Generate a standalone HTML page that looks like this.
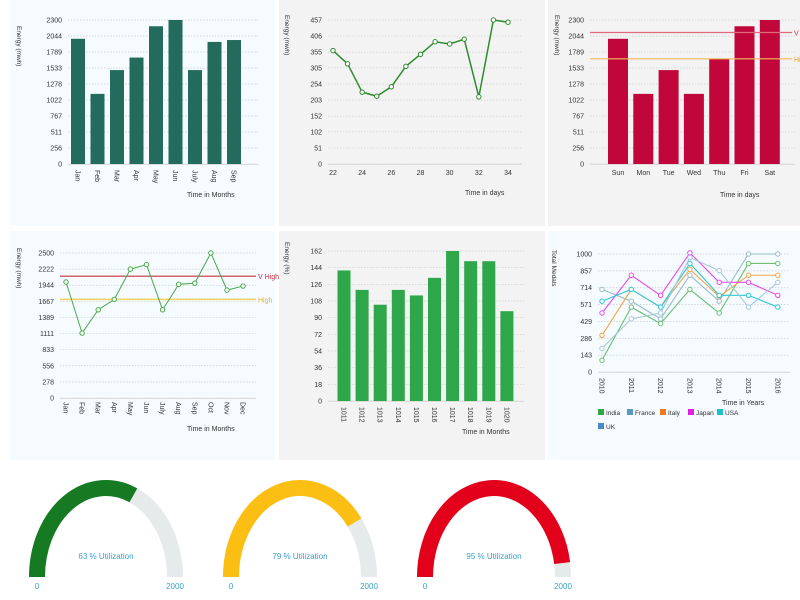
<!DOCTYPE html>
<html><head><meta charset="utf-8"><style>
html,body{margin:0;padding:0;background:#fff;}
svg{display:block;font-family:"Liberation Sans",sans-serif;}
</style></head><body>
<svg id="s" width="800" height="600" viewBox="0 0 800 600" xmlns="http://www.w3.org/2000/svg">
<rect x="10" y="0" width="265" height="226" fill="#f5fbfe"/>
<rect x="279" y="0" width="266" height="226" fill="#f3f3f3"/>
<rect x="548" y="0" width="252" height="226" fill="#f3f3f3"/>
<rect x="10" y="231" width="265" height="229" fill="#f5fbfe"/>
<rect x="279" y="231" width="266" height="229" fill="#f3f3f3"/>
<rect x="548" y="231" width="252" height="229" fill="#f5fbfe"/>
</svg>
<script>
// Chart 1
const c1Cats=["Jan","Feb","Mar","Apr","May","Jun","July","Aug","Sep"];
const c1Vals=[2000,1120,1500,1700,2200,2300,1500,1950,1980];
const c1Ticks=[0,256,511,767,1022,1278,1533,1789,2044,2300];
// Chart 2
const c2Days=[22,23,24,25,26,27,28,29,30,31,32,33,34];
const c2Vals=[360,318,228,215,245,310,348,388,381,396,213,457,450];
const c2Ticks=[0,51,102,152,203,254,305,355,406,457];
const c2XTicks=[22,24,26,28,30,32,34];
// Chart 3
const c3Cats=["Sun","Mon","Tue","Wed","Thu","Fri","Sat"];
const c3Vals=[2000,1120,1500,1120,1680,2200,2300];
const c3Ticks=[0,256,511,767,1022,1278,1533,1789,2044,2300];
const c3Thresholds=[2100,1680];
// Chart 4
const c4Cats=["Jan","Feb","Mar","Apr","May","Jun","July","Aug","Sep","Oct","Nov","Dec"];
const c4Vals=[2000,1120,1520,1700,2222,2300,1520,1960,1980,2500,1860,1930];
const c4Ticks=[0,278,556,833,1111,1389,1667,1944,2222,2500];
const c4Thresholds=[2100,1700];
// Chart 5
const c5Cats=["1011","1012","1013","1014","1015","1016","1017","1018","1019","1020"];
const c5Vals=[141,120,104,120,114,133,162,151,151,97];
const c5Ticks=[0,18,36,54,72,90,108,126,144,162];
// Chart 6
const c6Years=["2010","2011","2012","2013","2014","2015","2016"];
const c6Ticks=[0,143,286,429,571,714,857,1000];
const c6Names=["India","France","Italy","Japan","USA","UK"];
const c6India=[100,550,410,700,500,920,920];
const c6France=[700,600,450,820,600,1000,1000];
const c6Italy=[310,700,550,870,640,820,820];
const c6Japan=[500,820,650,1010,760,760,650];
const c6USA=[600,700,550,920,650,650,550];
const c6UK=[200,450,500,970,860,550,760];
// Gauges
const gVals=[63,79,95];

const svg=document.getElementById('s');
const NS="http://www.w3.org/2000/svg";
function mk(tag,attrs,name,parent){
  const e=document.createElementNS(NS,tag);
  for(const k in attrs)e.setAttribute(k,attrs[k]);
  
  
  (parent||svg).appendChild(e);return e;
}
function txt(x,y,s,attrs,name){const t=mk('text',Object.assign({x:x,y:y,'font-size':7,fill:'#333'},attrs||{}),name);t.textContent=s;return t;}
function lin(y0,y1,v0,v1){return v=>y0+(v-v0)/(v1-v0)*(y1-y0);}

function yAxis(ticks,yS,x0,x1,pre){
  ticks.forEach(t=>{
    mk('line',{x1:x0,x2:x1,y1:yS(t),y2:yS(t),stroke:'#ccc','stroke-width':0.7,'stroke-dasharray':'1.5,1.5'},pre+'-gridline');
    txt(x0-6,yS(t)+2.5,String(t),{'text-anchor':'end'},pre+'-y-tick');
  });
  mk('line',{x1:x0,x2:x1,y1:yS(0)+0.5,y2:yS(0)+0.5,stroke:'#ddd','stroke-width':1},pre+'-x-axis');
}
function yTitle(x,y,s,pre){txt(0,0,s,{transform:`translate(${x},${y}) rotate(90)`,'font-size':6.5},pre+'-y-axis-title');}
function rotLabel(x,y,s,name){txt(0,0,s,{transform:`translate(${x-2.5},${y}) rotate(90)`,'font-size':7},name);}

// Chart 1
{const y=lin(164,20,0,2300);yAxis(c1Ticks,y,68,258,'c1');
 c1Vals.forEach((v,i)=>{const cx=78+i*19.5;
  mk('rect',{x:cx-7,y:y(v),width:14,height:y(0)-y(v),fill:'#226b5d'},'c1-bar-'+c1Cats[i]);
  rotLabel(cx,170,c1Cats[i],'c1-x-tick');});
 yTitle(17,26,'Energy (mwh)','c1');txt(187,197,'Time in Months',{},'c1-x-axis-title');}
// Chart 2
{const y=lin(164,20,0,457),x=lin(333,508,22,34);yAxis(c2Ticks,y,328,522,'c2');
 c2XTicks.forEach(t=>txt(x(t),175,String(t),{'text-anchor':'middle'},'c2-x-tick'));
 mk('polyline',{points:c2Days.map((d,i)=>x(d)+','+y(c2Vals[i])).join(' '),fill:'none',stroke:'#2e8b2e','stroke-width':1.5},'c2-line');
 c2Days.forEach((d,i)=>mk('circle',{cx:x(d),cy:y(c2Vals[i]),r:2.2,fill:'#fff',stroke:'#2e8b2e','stroke-width':1},'c2-point'));
 yTitle(285,15,'Energy (mwh)','c2');txt(465,195,'Time in days',{},'c2-x-axis-title');}
// Chart 3
{const y=lin(164,20,0,2300);yAxis(c3Ticks,y,590,795,'c3');
 c3Vals.forEach((v,i)=>{const cx=618+i*25.3;
  mk('rect',{x:cx-10,y:y(v),width:20,height:y(0)-y(v),fill:'#c0063a'},'c3-bar-'+c3Cats[i]);
  txt(cx,175,c3Cats[i],{'text-anchor':'middle'},'c3-x-tick');});
 mk('line',{x1:590,x2:792,y1:y(c3Thresholds[0]),y2:y(c3Thresholds[0]),stroke:'#e06a7a','stroke-width':1.2},'c3-vhigh-line');
 mk('line',{x1:590,x2:792,y1:y(c3Thresholds[1]),y2:y(c3Thresholds[1]),stroke:'#f4b860','stroke-width':1.2},'c3-high-line');
 txt(794,y(c3Thresholds[0])+3,'V High',{fill:'#d0304a'},'c3-vhigh-label');
 txt(794,y(c3Thresholds[1])+3,'High',{fill:'#e8a030'},'c3-high-label');
 yTitle(555,15,'Energy (mwh)','c3');txt(720,197,'Time in days',{},'c3-x-axis-title');}
// Chart 4
{const y=lin(398,253,0,2500);yAxis(c4Ticks,y,60,256,'c4');
 const x=i=>66+i*16.1;
 c4Cats.forEach((c,i)=>rotLabel(x(i),402,c,'c4-x-tick'));
 mk('line',{x1:60,x2:256,y1:y(c4Thresholds[0]),y2:y(c4Thresholds[0]),stroke:'#c83040','stroke-width':1.2},'c4-vhigh-line');
 mk('line',{x1:60,x2:256,y1:y(c4Thresholds[1]),y2:y(c4Thresholds[1]),stroke:'#f4d060','stroke-width':1.5},'c4-high-line');
 txt(258,y(c4Thresholds[0])+3,'V High',{fill:'#c83040'},'c4-vhigh-label');
 txt(258,y(c4Thresholds[1])+3,'High',{fill:'#e8b030'},'c4-high-label');
 mk('polyline',{points:c4Vals.map((v,i)=>x(i)+','+y(v)).join(' '),fill:'none',stroke:'#4aa84a','stroke-width':1},'c4-line');
 c4Vals.forEach((v,i)=>mk('circle',{cx:x(i),cy:y(v),r:2.2,fill:'#fff',stroke:'#4aa84a','stroke-width':1},'c4-point'));
 yTitle(17,248,'Energy (mwh)','c4');txt(187,431,'Time in Months',{},'c4-x-axis-title');}
// Chart 5
{const y=lin(401,251,0,162);yAxis(c5Ticks,y,328,524,'c5');
 c5Vals.forEach((v,i)=>{const cx=344+i*18.1;
  mk('rect',{x:cx-6.5,y:y(v),width:13,height:y(0)-y(v),fill:'#2ea64a'},'c5-bar-'+c5Cats[i]);
  rotLabel(cx,407,c5Cats[i],'c5-x-tick');});
 yTitle(285,242,'Energy (%)','c5');txt(462,434,'Time in Months',{},'c5-x-axis-title');}
// Chart 6
{const y=lin(372,254,0,1000),x=i=>602+i*29.3;yAxis(c6Ticks,y,598,790,'c6');
 c6Years.forEach((c,i)=>rotLabel(x(i),378,c,'c6-x-tick'));
 const series=[c6India,c6France,c6Italy,c6Japan,c6USA,c6UK];
 const cols=['#6cc070','#98bccc','#f5a64a','#e84ce8','#30c8d8','#a8c8d8'];
 const sw=['#2ea64a','#5a9ac0','#f07820','#e020e0','#20c0c8','#4a8ac8'];
 series.forEach((s,k)=>{
  mk('polyline',{points:s.map((v,i)=>x(i)+','+y(v)).join(' '),fill:'none',stroke:cols[k],'stroke-width':1.1},'c6-line-'+c6Names[k]);
  s.forEach((v,i)=>mk('circle',{cx:x(i),cy:y(v),r:2.2,fill:'#fff',stroke:cols[k],'stroke-width':1},'c6-point'));
 });
 const lx=[598,627,660,688,717,598],ly=[414,414,414,414,414,428];
 c6Names.forEach((n,k)=>{
  mk('rect',{x:lx[k],y:ly[k]-5,width:6,height:6,fill:sw[k]},'c6-legend-swatch');
  txt(lx[k]+8,ly[k]+1,n,{'font-size':6.5},'c6-legend-entry');});
 yTitle(552,250,'Total Medals','c6');txt(722,405,'Time in Years',{},'c6-x-axis-title');}
// Gauges
{const cxs=[106,300,494],colors=['#167a22','#fbbf14','#e2001a'];
 const rx=69,ry=89,cy=577;
 gVals.forEach((v,k)=>{const cx=cxs[k],f=v/100;
  mk('path',{d:`M${cx-rx},${cy} A${rx},${ry} 0 0 1 ${cx+rx},${cy}`,fill:'none',stroke:'#e6eaea','stroke-width':16},'gauge-track');
  const ex=cx-rx*Math.cos(Math.PI*f),ey=cy-ry*Math.sin(Math.PI*f);
  mk('path',{d:`M${cx-rx},${cy} A${rx},${ry} 0 0 1 ${ex},${ey}`,fill:'none',stroke:colors[k],'stroke-width':16},'gauge-value-arc');
  txt(cx,559,v+' % Utilization',{'text-anchor':'middle','font-size':8,fill:'#3aa0c8'},'gauge-label');
  txt(cx-rx,589,'0',{'text-anchor':'middle','font-size':8,fill:'#3aa0c8'},'gauge-min');
  txt(cx+rx,589,'2000',{'text-anchor':'middle','font-size':8,fill:'#3aa0c8'},'gauge-max');
 });}
</script>
</body></html>
